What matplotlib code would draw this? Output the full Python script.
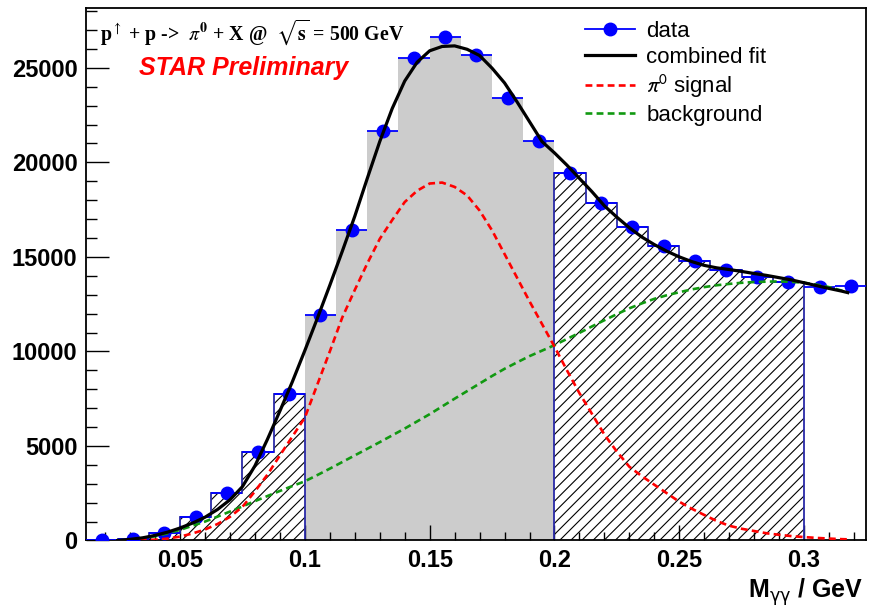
import numpy as np
import matplotlib
matplotlib.use("Agg")
import matplotlib.pyplot as plt
from matplotlib.lines import Line2D
from matplotlib.ticker import MultipleLocator, FuncFormatter
from matplotlib.font_manager import FontProperties

plt.rcParams["font.family"] = ["Liberation Sans", "DejaVu Sans"]
plt.rcParams["hatch.linewidth"] = 0.8

# Di-photon invariant mass histogram (bin width 0.0125 GeV, first edge 0.0125 GeV)
bin_low = 0.0125
bin_width = 0.0125
counts = [20, 70, 400, 1250, 2530, 4700, 7750, 11900, 16400, 21650, 25500, 26650,
          25700, 23400, 21150, 19450, 17850, 16600, 15600, 14800, 14300, 13950,
          13650, 13430, 13460]

signal_window = (0.1, 0.2)
sideband_windows = [(0.0125, 0.1), (0.2, 0.3)]

# Fit components sampled along the mass axis
fit_x = [0.025, 0.030, 0.035, 0.040, 0.045, 0.050, 0.055, 0.060, 0.065, 0.070,
         0.075, 0.080, 0.085, 0.090, 0.095, 0.100, 0.105, 0.110, 0.115, 0.120,
         0.125, 0.130, 0.135, 0.140, 0.145, 0.150, 0.155, 0.160, 0.165, 0.170,
         0.175, 0.180, 0.185, 0.190, 0.195, 0.200, 0.205, 0.210, 0.215, 0.220,
         0.225, 0.230, 0.235, 0.240, 0.245, 0.250, 0.255, 0.260, 0.265, 0.270,
         0.275, 0.280, 0.285, 0.290, 0.295, 0.300, 0.305, 0.310, 0.315, 0.3175]
fit_total = [0, 60, 140, 270, 440, 660, 920, 1230, 1640, 2150,
             2850, 3950, 5350, 6850, 8400, 10050, 11750, 13500, 15300, 17150,
             19150, 21100, 22850, 24300, 25300, 25900, 26130, 26160, 25980, 25650,
             24980, 24200, 23200, 22150, 21100, 20500, 19850, 19150, 18450, 17700,
             17100, 16540, 16050, 15650, 15300, 15000, 14750, 14550, 14420, 14330,
             14230, 14120, 14020, 13900, 13780, 13630, 13480, 13330, 13190, 13110]
fit_signal = [0, 5, 15, 40, 100, 205, 370, 580, 870, 1250,
              1780, 2600, 3480, 4500, 5500, 6500, 8250, 10000, 11800, 13250,
              14650, 15950, 16950, 17900, 18500, 18880, 18930, 18700, 18250, 17450,
              16400, 15150, 13900, 12650, 11450, 10250, 9000, 7790, 6700, 5600,
              4700, 3900, 3400, 2950, 2500, 2050, 1680, 1350, 1030, 780,
              620, 500, 380, 300, 230, 180, 135, 100, 70, 60]
fit_background = [0, 50, 120, 220, 380, 560, 780, 1000, 1260, 1530,
                  1800, 2080, 2350, 2620, 2880, 3130, 3460, 3800, 4150, 4500,
                  4850, 5200, 5560, 5920, 6300, 6680, 7090, 7500, 7900, 8300,
                  8700, 9080, 9420, 9750, 10040, 10330, 10660, 10980, 11320, 11650,
                  11970, 12280, 12540, 12780, 12970, 13130, 13280, 13400, 13500, 13570,
                  13630, 13670, 13690, 13700, 13680, 13630, 13530, 13400, 13220, 13120]

x_range = (0.0125, 0.325)
y_max = 28150
tick_font = 17

counts = np.asarray(counts, dtype=float)
edges = bin_low + bin_width * np.arange(len(counts) + 1)
centers = 0.5 * (edges[:-1] + edges[1:])


def window(lo, hi):
    i0 = int(round((lo - bin_low) / bin_width))
    i1 = int(round((hi - bin_low) / bin_width))
    return counts[i0:i1], edges[i0:i1 + 1]


fig = plt.figure(figsize=(8.69, 6.07), dpi=100)
ax = fig.add_axes([0.0995, 0.1096, 0.8976, 0.8768])

# signal window: plain grey fill
vals, eds = window(*signal_window)
ax.stairs(vals, eds, fill=True, facecolor="#cccccc", edgecolor="none", lw=0, zorder=1)

# side bands: hatched with a navy outline
for lo, hi in sideband_windows:
    vals, eds = window(lo, hi)
    ax.stairs(vals, eds, fill=True, facecolor="white", edgecolor="black",
              hatch="///", lw=0, zorder=1)
    ax.stairs(vals, eds, fill=False, baseline=0, edgecolor="#2a2aa8", lw=1.3, zorder=2)

# data points with bin-width bars
ax.errorbar(centers, counts, xerr=bin_width / 2, fmt="o", color="#0000ff", ms=9,
            elinewidth=1.3, capsize=0, zorder=4)

# fit curves
ax.plot(fit_x, fit_background, color="#119911", lw=1.9, dashes=(2.6, 1.6), zorder=5)
ax.plot(fit_x, fit_signal, color="#ff0000", lw=1.9, dashes=(2.6, 1.6), zorder=5)
ax.plot(fit_x, fit_total, color="black", lw=2.3, zorder=6)

ax.set_xlim(*x_range)
ax.set_ylim(0, y_max)

ax.xaxis.set_major_locator(MultipleLocator(0.05))
ax.xaxis.set_minor_locator(MultipleLocator(0.01))
ax.yaxis.set_major_locator(MultipleLocator(5000))
ax.yaxis.set_minor_locator(MultipleLocator(1000))
ax.xaxis.set_major_formatter(FuncFormatter(lambda v, p: f"{v:g}"))
ax.yaxis.set_major_formatter(FuncFormatter(lambda v, p: f"{int(round(v))}"))

ax.tick_params(which="both", direction="in", top=False, right=False, width=1.0)
ax.tick_params(axis="x", which="major", length=11, pad=6, labelsize=tick_font)
ax.tick_params(axis="x", which="minor", length=5.5)
ax.tick_params(axis="y", which="major", length=16.5, pad=6.5, labelsize=tick_font)
ax.tick_params(axis="y", which="minor", length=8)
for lab in ax.get_xticklabels() + ax.get_yticklabels():
    lab.set_fontweight("bold")

for sp in ax.spines.values():
    sp.set_linewidth(1.3)

# axis title
fig.text(0.9931, 0.0247, r"M$_{\mathrm{\gamma\gamma}}$ / GeV", ha="right", va="center",
         fontsize=18, fontweight="bold", math_fontfamily="dejavusans")

# annotations
ax.text(0.0173, 0.9555,
        r"p$^{\uparrow}$ + p ->  $\pi^{\mathbf{0}}$ + X @  $\sqrt{\mathbf{s}}$ = 500 GeV",
        transform=ax.transAxes, ha="left", va="center", fontsize=14.3,
        fontweight="bold", family="Liberation Serif", math_fontfamily="stix")
ax.text(0.0673, 0.8878, "STAR Preliminary", transform=ax.transAxes, ha="left",
        va="center", fontsize=18, fontweight="bold", fontstyle="italic", color="#ff0000")

handles = [
    Line2D([], [], color="#0000ff", marker="o", ms=9, lw=1.3),
    Line2D([], [], color="black", lw=2.3),
    Line2D([], [], color="#ff0000", lw=1.9, dashes=(2.6, 1.6)),
    Line2D([], [], color="#119911", lw=1.9, dashes=(2.6, 1.6)),
]
labels = ["data", "combined fit", r"$\pi^{0}$ signal", "background"]
ax.legend(handles, labels, loc="upper left", bbox_to_anchor=(0.6732, 0.966),
          bbox_transform=fig.transFigure, frameon=False, borderpad=0,
          borderaxespad=0, handlelength=2.25, handletextpad=0.5, labelspacing=0.22,
          prop=FontProperties(family="Liberation Sans", size=16,
                              math_fontfamily="stixsans"))

fig.savefig("out.png", dpi=100)
